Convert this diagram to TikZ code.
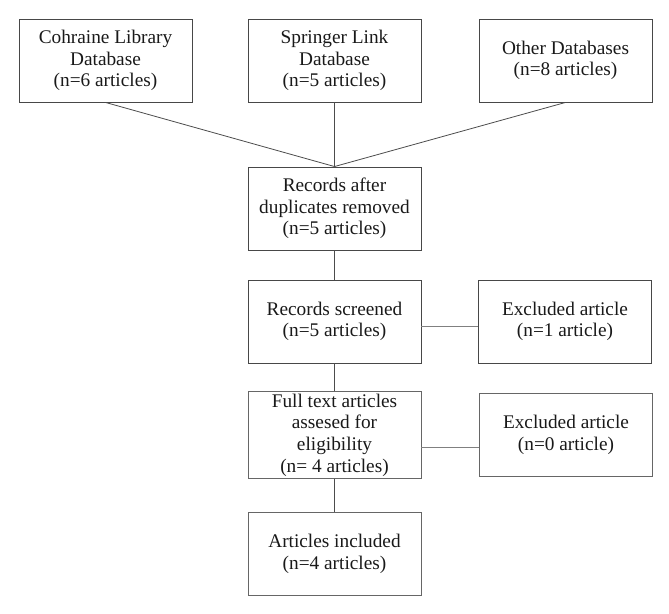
\documentclass[tikz,border=0pt]{standalone}
\usepackage{fontspec}
\setmainfont{Liberation Serif}
\begin{document}
\begin{tikzpicture}[x=1pt,y=1pt,
  box/.style={draw=black!72, line width=0.9pt, minimum width=173pt, minimum height=83pt,
    align=center, inner sep=2pt, font=\fontsize{19.3}{21.7}\selectfont, text=black!90},
  lowbox/.style={box, draw=black!60},
  conn/.style={draw=black!70, line width=0.8pt},
  lconn/.style={draw=black!50, line width=0.8pt}]
\useasboundingbox (0,0) rectangle (669,613);
\node[box] (b1) at (105.5,552.5) {Cohraine Library\\Database\\(n=6 articles)};
\node[box] (b2) at (334.5,552.5) {Springer Link\\Database\\(n=5 articles)};
\node[box] (b3) at (565.5,552.5) {Other Databases\\(n=8 articles)};
\node[box] (b4) at (334.5,404.5) {Records after\\duplicates removed\\(n=5 articles)};
\node[box] (b5) at (334.5,291.5) {Records screened\\(n=5 articles)};
\node[box] (r1) at (565,291.5) {Excluded article\\(n=1 article)};
\node[lowbox] (b6) at (334.5,178) {Full text articles\\assesed for\\eligibility\\(n= 4 articles)};
\node[lowbox] (r2) at (566,178) {Excluded article\\(n=0 article)};
\node[lowbox] (b7) at (334.5,59) {Articles included\\(n=4 articles)};
\draw[conn] (b1.south) -- (b4.north);
\draw[conn] (b2.south) -- (b4.north);
\draw[conn] (b3.south) -- (b4.north);
\draw[conn] (b4.south) -- (b5.north);
\draw[conn] (b5.south) -- (b6.north);
\draw[conn] (b6.south) -- (b7.north);
\draw[lconn] ([yshift=-4.5pt]b5.east) -- ([yshift=-4.5pt]r1.west);
\draw[lconn] ([yshift=-12pt]b6.east) -- ([yshift=-12pt]r2.west);
\end{tikzpicture}
\end{document}
